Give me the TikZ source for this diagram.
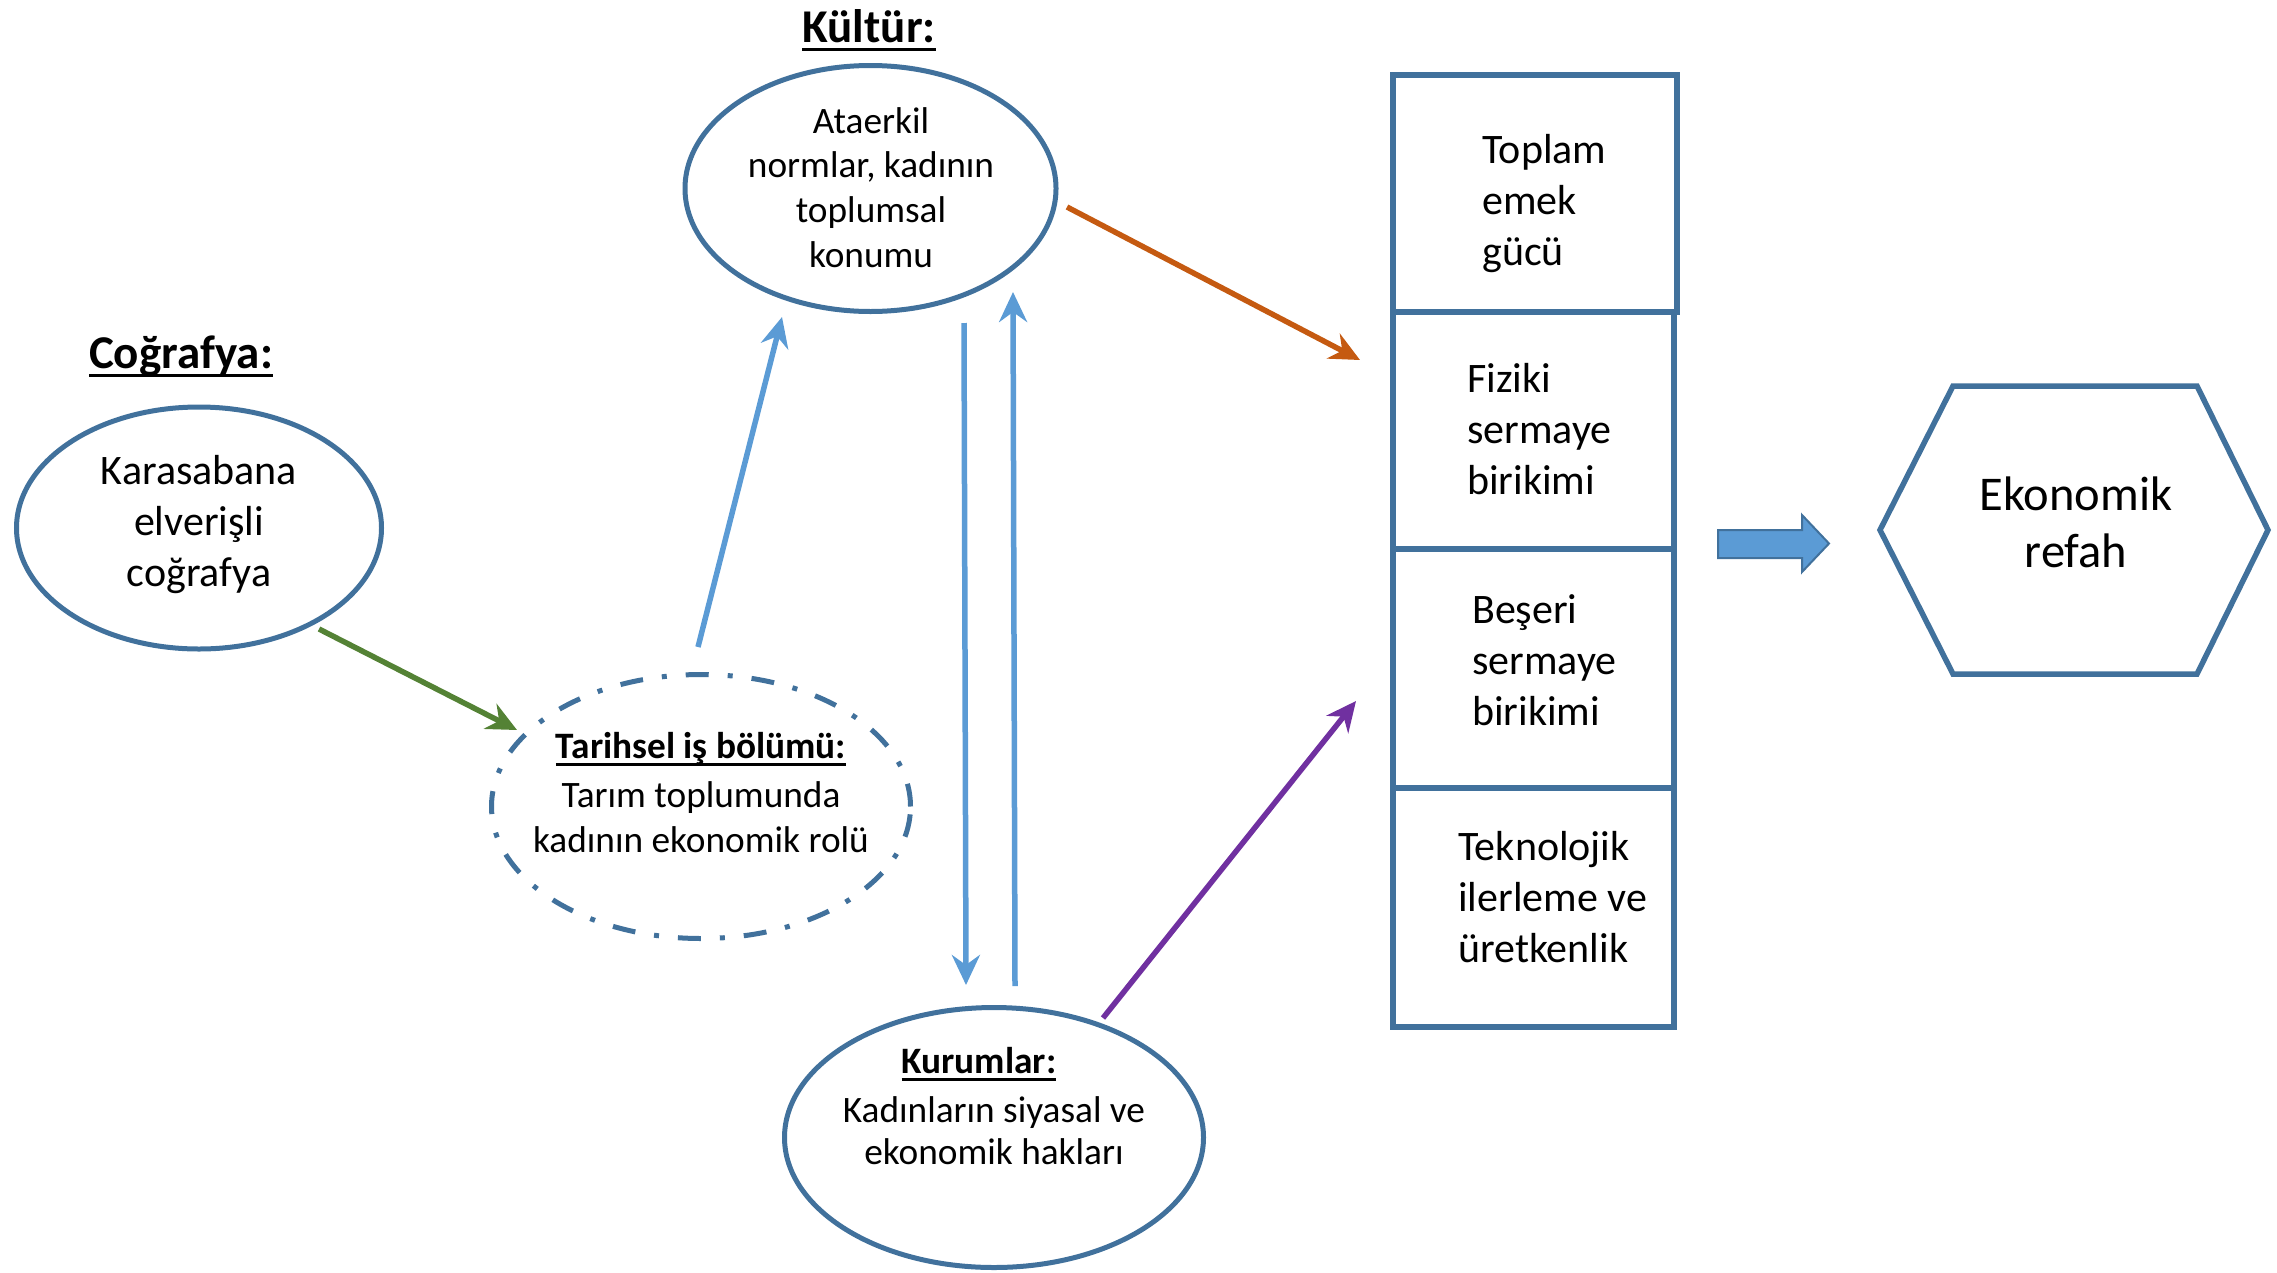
\documentclass[tikz,border=0pt]{standalone}
\usepackage{fontspec}
\setmainfont{Carlito}
\usetikzlibrary{arrows.meta,shapes.geometric}
\definecolor{edgeblue}{HTML}{41719C}
\definecolor{lightblue}{HTML}{5B9BD5}
\definecolor{arrgreen}{HTML}{548235}
\definecolor{arrorange}{HTML}{C55A11}
\definecolor{arrpurple}{HTML}{7030A0}
\newcommand\ulx[1]{\setbox0\hbox{#1}\rlap{\rule[-0.2em]{\wd0}{0.07em}}\box0}
\begin{document}
\begin{tikzpicture}[x=1pt,y=-1pt,
  ell/.style={draw=edgeblue, line width=5pt, ellipse, inner sep=0pt},
  boxnode/.style={draw=edgeblue, line width=5.5pt, rectangle, inner sep=0pt},
  ttl/.style={font=\fontsize{47}{57}\selectfont\bfseries, anchor=base, inner sep=0pt},
  tsmall/.style={font=\fontsize{37.3}{44.7}\selectfont, align=center, inner sep=0pt},
  tmid/.style={font=\fontsize{42}{51}\selectfont, align=center, inner sep=0pt},
  tbox/.style={font=\fontsize{42}{51}\selectfont, align=left, anchor=west, inner sep=0pt},
  tbig/.style={font=\fontsize{48.5}{57}\selectfont, align=center, inner sep=0pt},
  conn/.style={line width=5.5pt, -{Stealth[length=30pt,width=28pt,inset=10pt]}}
]
\useasboundingbox (0,0) rectangle (2277,1272);

% titles
\node[ttl] (kulturT) at (869,42) {\ulx{Kültür:}};
\node[ttl] (cografT) at (181,368) {\ulx{Coğrafya:}};

% ellipses
\node[ell, minimum width=371pt, minimum height=246pt] (kultur) at (870.5,188.5) {};
\node[tsmall] (kulturX) at (871,187.5) {Ataerkil\\normlar, kadının\\toplumsal\\konumu};

\node[ell, minimum width=365pt, minimum height=242pt] (cograf) at (199,528) {};
\node[tmid] (cografX) at (199,524.5) {Karasabana\\elverişli\\coğrafya};

\node[ell, dash pattern=on 23pt off 19pt on 5pt off 19pt, minimum width=419pt, minimum height=264pt] (tarih) at (701,806.5) {};
\node[tsmall, font=\fontsize{37.3}{45}\selectfont] (tarihX) at (701,792.5) {\textbf{\ulx{Tarihsel iş bölümü:}}\\[4pt]Tarım toplumunda\\kadının ekonomik rolü};

\node[ell, minimum width=419pt, minimum height=260pt] (kurum) at (994,1137.5) {};
\node[tsmall, font=\fontsize{37.3}{42}\selectfont] (kurumX) at (994,1106) {\textbf{\ulx{Kurumlar:}}\hspace*{30pt}\\[7pt]Kadınların siyasal ve\\ekonomik hakları};

% boxes
\node[boxnode, minimum width=284pt, minimum height=237pt] (b1) at (1535,193.5) {};
\node[boxnode, minimum width=281pt, minimum height=237pt] (b2) at (1533.5,430.5) {};
\node[boxnode, minimum width=281pt, minimum height=239pt] (b3) at (1533.5,668.5) {};
\node[boxnode, minimum width=281pt, minimum height=239pt] (b4) at (1533.5,907.5) {};
\node[tbox] (b1X) at (1482,203.5) {Toplam\\emek\\gücü};
\node[tbox] (b2X) at (1467,429.5) {Fiziki\\sermaye\\birikimi};
\node[tbox] (b3X) at (1472,660.5) {Beşeri\\sermaye\\birikimi};
\node[tbox] (b4X) at (1458,897.5) {Teknolojik\\ilerleme ve\\üretkenlik};

% hexagon
\coordinate (h1) at (1880,530);
\coordinate (h2) at (1953,386);
\coordinate (h3) at (2197,386);
\coordinate (h4) at (2268,530);
\coordinate (h5) at (2197,674);
\coordinate (h6) at (1953,674);
\draw[draw=edgeblue, line width=5.5pt, line join=miter] (h1) -- (h2) -- (h3) -- (h4) -- (h5) -- (h6) -- cycle;
\node[tbig] (ekon) at (2076,522) {Ekonomik\\refah};

% block arrow
\draw[fill=lightblue, draw=edgeblue, line width=2pt] (1718,530) -- (1802,530) -- (1802,515) -- (1829,543.5) -- (1802,572) -- (1802,558) -- (1718,558) -- cycle;

% connector end points
\coordinate (g1) at (319,629);  \coordinate (g2) at (517,730);
\coordinate (c1) at (698,647);  \coordinate (c2) at (782,317);
\coordinate (d1) at (964,323);  \coordinate (d2) at (966,985);
\coordinate (u1) at (1015,986); \coordinate (u2) at (1013,292);
\coordinate (o1) at (1067,207); \coordinate (o2) at (1360,360);
\coordinate (p1) at (1103,1018); \coordinate (p2) at (1356,701);

\draw[conn, arrgreen] (g1) -- (g2);
\draw[conn, lightblue] (c1) -- (c2);
\draw[conn, lightblue] (d1) -- (d2);
\draw[conn, lightblue] (u1) -- (u2);
\draw[conn, arrorange] (o1) -- (o2);
\draw[conn, arrpurple] (p1) -- (p2);
\end{tikzpicture}
\end{document}
